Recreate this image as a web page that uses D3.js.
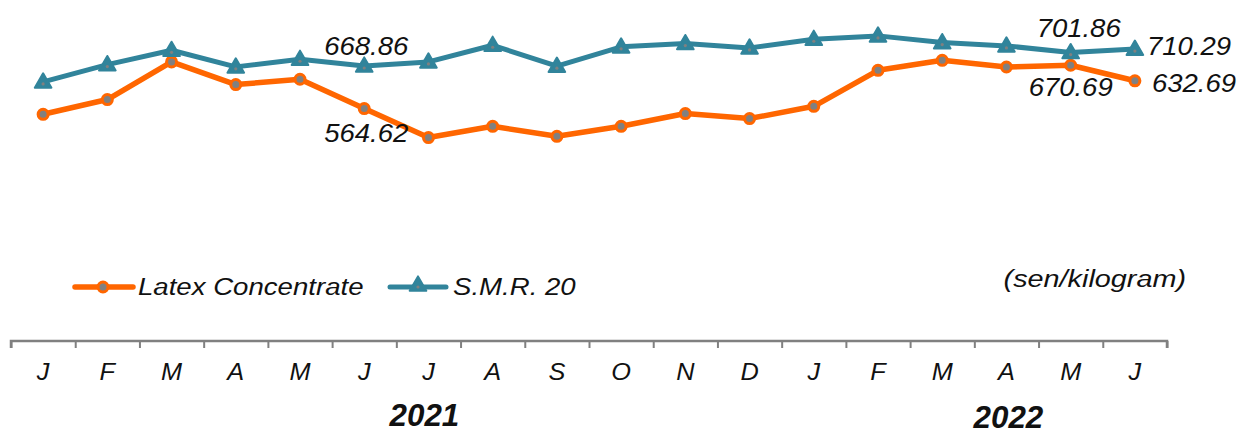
<!DOCTYPE html>
<html>
<head>
<meta charset="utf-8">
<script src="https://cdn.jsdelivr.net/npm/d3@7"></script>
<style>
  body { margin: 0; background: #fff; }
  text { font-family: "Liberation Sans", Arial, sans-serif; font-style: italic; fill: #111; }
</style>
</head>
<body>
<div id="chart"></div>
<script>
const months = ["J", "F", "M", "A", "M", "J", "J", "A", "S", "O", "N", "D", "J", "F", "M", "A", "M", "J"];
const latex = [550.6, 586.7, 678.8, 623.4, 636.4, 564.62, 493.6, 521.2, 496.7, 521.2, 552.4, 540.1, 570.2, 658.4, 682.9, 666.5, 670.69, 632.69];
const smr = [630.0, 672.4, 707.4, 666.8, 685.4, 668.86, 679.0, 719.7, 668.5, 715.8, 723.9, 713.3, 734.4, 742.7, 726.3, 718.2, 701.86, 710.29];
const seriesNames = ["Latex Concentrate", "S.M.R. 20"];
const years = ["2021", "2022"];
const yearAt = [6, 15];
const unitLabel = "(sen/kilogram)";

const w = 1239;
const h = 435;
const orange = "#ff6600";
const teal = "#31849b";
const grey = "#808080";

const svg = d3.select("#chart")
    .append("svg")
    .attr("width", w)
    .attr("height", h);

const xScale = d3.scaleBand()
    .domain(d3.range(months.length))
    .range([11, 1167]);

const xEdge = d3.scaleLinear()
    .domain([0, months.length])
    .range([11, 1167]);

const yScale = d3.scaleLinear()
    .domain([0, 800])
    .range([339, 12.5]);

const cx = (i) => xScale(i) + xScale.bandwidth() / 2;

// stretched text helper, the original glyphs are a bit wide
function label(g, x, y, txt, size, anchor, sx) {
    return g.append("text")
        .attr("transform", "translate(" + x + "," + y + ") scale(" + (sx || 1.1) + ",1)")
        .attr("text-anchor", anchor || "middle")
        .style("font-size", size + "px")
        .text(txt);
}

// x axis
const axis = svg.append("g")
    .attr("transform", "translate(0,341)")
    .call(d3.axisBottom(xEdge).tickValues(d3.range(months.length + 1)).tickSize(7).tickFormat(""));
axis.select(".domain").attr("stroke", grey).attr("stroke-width", 2.5).attr("d", "M11,7V0H1167V7");
axis.selectAll(".tick line").attr("stroke", grey).attr("stroke-width", 2);

months.forEach((m, i) => label(svg, cx(i), 380, m, 23));

years.forEach((y, i) => {
    label(svg, cx(yearAt[i]) - 4 + i * 6, 426 + i * 2, y, 32, "middle", 0.98)
        .style("font-family", "'Liberation Sans Narrow', 'Arial Narrow', 'Liberation Sans', sans-serif")
        .style("font-weight", "bold");
});

// lines
const line = d3.line()
    .x((d, i) => cx(i))
    .y((d) => yScale(d));

svg.append("path")
    .datum(latex)
    .attr("fill", "none")
    .attr("stroke", orange)
    .attr("stroke-width", 5.5)
    .attr("stroke-linejoin", "round")
    .attr("d", line);

svg.append("path")
    .datum(smr)
    .attr("fill", "none")
    .attr("stroke", teal)
    .attr("stroke-width", 5)
    .attr("stroke-linejoin", "round")
    .attr("d", line);

const tri = d3.symbol().type(d3.symbolTriangle).size(120);

function circleMarker(g, x, y) {
    g.append("circle")
        .attr("cx", x).attr("cy", y).attr("r", 5)
        .attr("fill", grey).attr("stroke", orange).attr("stroke-width", 3);
}

function triMarker(g, x, y) {
    g.append("path")
        .attr("d", tri)
        .attr("transform", "translate(" + x + "," + (y + 1) + ")")
        .attr("fill", teal).attr("stroke", teal).attr("stroke-width", 2).attr("stroke-linejoin", "round");
    g.append("circle")
        .attr("cx", x).attr("cy", y + 2).attr("r", 1.6)
        .attr("fill", grey);
}

latex.forEach((d, i) => circleMarker(svg, cx(i), yScale(d)));
smr.forEach((d, i) => triMarker(svg, cx(i), yScale(d)));

// data labels
const notes = [
    { s: smr, i: 5, dx: 2, dy: -11, anchor: "middle" },
    { s: latex, i: 5, dx: 2, dy: 33, anchor: "middle" },
    { s: smr, i: 16, dx: 8, dy: -16, anchor: "middle" },
    { s: smr, i: 17, dx: 12, dy: 6, anchor: "start" },
    { s: latex, i: 16, dx: 0, dy: 31, anchor: "middle" },
    { s: latex, i: 17, dx: 17, dy: 11, anchor: "start" }
];
notes.forEach((n) => {
    label(svg, cx(n.i) + n.dx, yScale(n.s[n.i]) + n.dy, n.s[n.i].toFixed(2), 25, n.anchor);
});

// legend
const legend = svg.append("g");
legend.append("line").attr("x1", 75).attr("x2", 133).attr("y1", 287).attr("y2", 287)
    .attr("stroke", orange).attr("stroke-width", 5.5).attr("stroke-linecap", "round");
circleMarker(legend, 103, 287);
label(legend, 138, 295, seriesNames[0], 24, "start", 1.15);

legend.append("line").attr("x1", 390).attr("x2", 446).attr("y1", 287).attr("y2", 287)
    .attr("stroke", teal).attr("stroke-width", 5).attr("stroke-linecap", "round");
triMarker(legend, 418, 285);
label(legend, 453, 295, seriesNames[1], 24, "start", 1.15);

label(svg, 1186, 287, unitLabel, 24, "end", 1.2);
</script>
</body>
</html>
